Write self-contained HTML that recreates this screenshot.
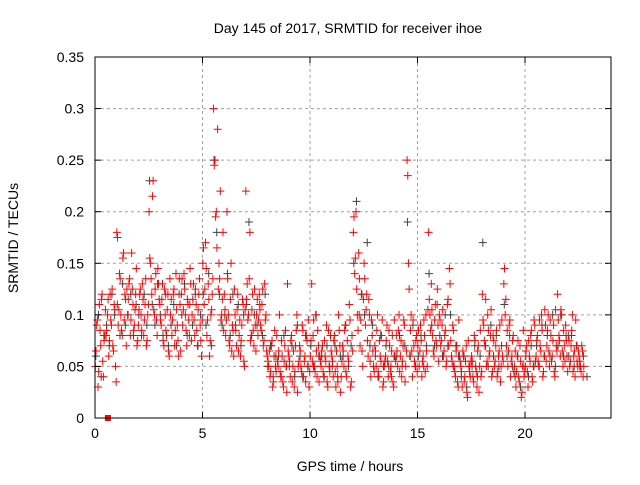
<!DOCTYPE html>
<html><head><meta charset="utf-8"><style>
body{margin:0;background:#fff}
svg text{font-family:"Liberation Sans",sans-serif;font-size:14px;fill:#000}
</style></head><body>
<svg id="c" width="640" height="480"></svg>
<script>
const xTicks=[0,5,10,15,20];
const yTicks=[0,0.05,0.1,0.15,0.2,0.25,0.3,0.35];
const yTickLabels=["0","0.05","0.1","0.15","0.2","0.25","0.3","0.35"];
const binStarts=[0,0.5,1,1.5,2,2.5,3,3.5,4,4.5,5,5.5,6,6.5,7,7.5,8,8.5,9,9.5,10,10.5,11,11.5,12,12.5,13,13.5,14,14.5,15,15.5,16,16.5,17,17.5,18,18.5,19,19.5,20,20.5,21,21.5,22,22.5];
const redBins=[
[0.05,0.09,0.03,0.11,0.07,0.12,0.04,0.08],[0.08,0.1,0.06,0.12,0.09,0.07,0.11,0.05],
[0.18,0.09,0.14,0.1,0.08,0.16,0.12,0.07],[0.1,0.13,0.08,0.16,0.11,0.09,0.12,0.07],
[0.09,0.12,0.1,0.13,0.08,0.11,0.07,0.1],[0.2,0.15,0.12,0.23,0.1,0.14,0.08,0.13],
[0.11,0.09,0.13,0.07,0.1,0.08,0.12,0.06],[0.1,0.08,0.12,0.07,0.14,0.09,0.06,0.11],
[0.12,0.09,0.14,0.1,0.07,0.11,0.08,0.13],[0.1,0.13,0.08,0.11,0.07,0.12,0.09,0.06],
[0.15,0.11,0.17,0.08,0.13,0.06,0.1,0.12],[0.3,0.25,0.2,0.28,0.15,0.22,0.1,0.18],
[0.12,0.08,0.2,0.1,0.07,0.15,0.09,0.06],[0.1,0.07,0.12,0.08,0.06,0.09,0.11,0.05],
[0.22,0.13,0.1,0.18,0.08,0.12,0.07,0.09],[0.1,0.08,0.12,0.09,0.11,0.07,0.13,0.1],
[0.06,0.05,0.04,0.07,0.03,0.06,0.05,0.08],[0.05,0.1,0.04,0.06,0.03,0.07,0.05,0.13],
[0.06,0.04,0.08,0.05,0.03,0.07,0.1,0.05],[0.07,0.05,0.09,0.04,0.06,0.08,0.05,0.03],
[0.06,0.13,0.08,0.05,0.1,0.04,0.07,0.06],[0.05,0.07,0.04,0.06,0.09,0.03,0.05,0.08],
[0.06,0.04,0.08,0.03,0.05,0.1,0.07,0.04],[0.07,0.05,0.09,0.04,0.06,0.11,0.03,0.08],
[0.18,0.14,0.2,0.1,0.16,0.07,0.12,0.05],[0.15,0.09,0.12,0.06,0.1,0.04,0.08,0.05],
[0.07,0.05,0.1,0.04,0.06,0.08,0.03,0.05],[0.06,0.09,0.04,0.07,0.05,0.08,0.03,0.06],
[0.08,0.05,0.1,0.06,0.04,0.07,0.09,0.05],[0.25,0.15,0.06,0.1,0.04,0.07,0.05,0.08],
[0.07,0.05,0.09,0.04,0.06,0.08,0.1,0.05],[0.18,0.1,0.13,0.08,0.06,0.11,0.07,0.09],
[0.1,0.07,0.09,0.06,0.08,0.05,0.11,0.07],[0.13,0.06,0.09,0.05,0.04,0.07,0.03,0.06],
[0.05,0.03,0.06,0.04,0.07,0.02,0.05,0.04],[0.06,0.04,0.08,0.05,0.03,0.07,0.05,0.04],
[0.12,0.09,0.07,0.05,0.1,0.06,0.08,0.04],[0.08,0.05,0.07,0.04,0.06,0.09,0.05,0.06],
[0.13,0.1,0.07,0.05,0.09,0.04,0.06,0.08],[0.05,0.03,0.06,0.04,0.07,0.02,0.05,0.04],
[0.05,0.07,0.03,0.06,0.08,0.04,0.05,0.09],[0.06,0.08,0.05,0.07,0.1,0.04,0.06,0.09],
[0.07,0.1,0.05,0.08,0.06,0.09,0.04,0.07],[0.12,0.08,0.06,0.1,0.05,0.07,0.09,0.06],
[0.08,0.05,0.07,0.1,0.06,0.04,0.07,0.05],[0.06,0.05,0.07,0.04]
];
const redBins2=[
[0.065,0.095,0.045,0.085,0.115,0.055,0.075,0.105],[0.085,0.115,0.075,0.095,0.125,0.065,0.105,0.035],
[0.175,0.105,0.135,0.085,0.155,0.095,0.115,0.125],[0.115,0.135,0.095,0.125,0.085,0.105,0.145,0.075],
[0.105,0.125,0.085,0.115,0.095,0.135,0.075,0.11],[0.155,0.135,0.215,0.105,0.125,0.095,0.145,0.115],
[0.095,0.115,0.075,0.125,0.085,0.105,0.065,0.135],[0.115,0.095,0.125,0.085,0.105,0.075,0.135,0.065],
[0.135,0.105,0.125,0.085,0.115,0.095,0.145,0.075],[0.115,0.095,0.125,0.085,0.105,0.135,0.075,0.095],
[0.165,0.125,0.145,0.095,0.115,0.075,0.105,0.135],[0.245,0.195,0.165,0.125,0.135,0.095,0.115,0.085],
[0.105,0.095,0.135,0.075,0.115,0.065,0.085,0.125],[0.085,0.105,0.065,0.095,0.075,0.115,0.055,0.105],
[0.115,0.095,0.135,0.075,0.105,0.085,0.125,0.065],[0.115,0.095,0.105,0.085,0.125,0.075,0.095,0.065],
[0.055,0.065,0.045,0.075,0.035,0.085,0.045,0.055],[0.065,0.045,0.075,0.035,0.055,0.085,0.025,0.065],
[0.055,0.075,0.035,0.065,0.045,0.085,0.025,0.055],[0.065,0.045,0.085,0.055,0.035,0.075,0.095,0.045],
[0.075,0.055,0.095,0.045,0.065,0.085,0.035,0.055],[0.065,0.045,0.075,0.055,0.035,0.085,0.045,0.065],
[0.055,0.075,0.045,0.065,0.035,0.085,0.025,0.055],[0.065,0.085,0.045,0.075,0.055,0.095,0.035,0.065],
[0.195,0.155,0.125,0.085,0.135,0.095,0.065,0.115],[0.135,0.105,0.075,0.115,0.055,0.095,0.065,0.045],
[0.065,0.085,0.045,0.075,0.055,0.095,0.035,0.055],[0.075,0.055,0.085,0.045,0.065,0.035,0.095,0.055],
[0.065,0.085,0.045,0.075,0.055,0.095,0.035,0.065],[0.235,0.125,0.085,0.065,0.095,0.055,0.075,0.045],
[0.085,0.065,0.075,0.055,0.095,0.045,0.065,0.105],[0.115,0.085,0.105,0.065,0.095,0.075,0.125,0.055],
[0.095,0.075,0.105,0.065,0.085,0.055,0.115,0.145],[0.075,0.055,0.085,0.045,0.065,0.035,0.095,0.055],
[0.045,0.065,0.035,0.055,0.025,0.075,0.045,0.055],[0.055,0.035,0.075,0.045,0.065,0.025,0.085,0.045],
[0.095,0.075,0.115,0.055,0.085,0.065,0.105,0.045],[0.075,0.055,0.085,0.045,0.065,0.035,0.095,0.055],
[0.145,0.115,0.085,0.065,0.095,0.055,0.075,0.045],[0.065,0.045,0.075,0.035,0.055,0.025,0.085,0.045],
[0.065,0.045,0.075,0.055,0.085,0.035,0.095,0.055],[0.075,0.055,0.095,0.065,0.085,0.045,0.105,0.055],
[0.085,0.065,0.095,0.055,0.075,0.045,0.105,0.065],[0.095,0.075,0.105,0.065,0.085,0.055,0.075,0.045],
[0.075,0.055,0.085,0.045,0.065,0.095,0.055,0.065],[0.055,0.045,0.065,0.05]
];
const greyBins=[
[0.06,0.1,0.04,0.08],[0.09,0.07,0.12,0.1],[0.11,0.08,0.13,0.09],[0.1,0.12,0.08,0.11],
[0.1,0.08,0.12,0.09],[0.23,0.11,0.09,0.13],[0.1,0.08,0.12,0.07],[0.09,0.11,0.07,0.12],
[0.1,0.13,0.08,0.11],[0.09,0.12,0.07,0.1],[0.12,0.09,0.14,0.07],[0.25,0.18,0.12,0.09],
[0.1,0.14,0.08,0.12],[0.09,0.11,0.07,0.1],[0.11,0.19,0.08,0.1],[0.09,0.11,0.08,0.12],
[0.05,0.07,0.04,0.06],[0.06,0.04,0.08,0.05],[0.05,0.07,0.04,0.09],[0.06,0.04,0.08,0.05],
[0.07,0.05,0.1,0.06],[0.06,0.04,0.07,0.05],[0.05,0.07,0.04,0.06],[0.06,0.09,0.05,0.07],
[0.15,0.21,0.1,0.12],[0.1,0.17,0.07,0.09],[0.06,0.04,0.08,0.05],[0.07,0.05,0.04,0.06],
[0.06,0.08,0.05,0.07],[0.19,0.06,0.09,0.05],[0.06,0.08,0.05,0.07],[0.14,0.09,0.07,0.11],
[0.08,0.06,0.1,0.07],[0.1,0.05,0.07,0.06],[0.04,0.06,0.03,0.05],[0.05,0.07,0.04,0.06],
[0.17,0.07,0.05,0.09],[0.06,0.08,0.05,0.07],[0.11,0.06,0.08,0.05],[0.04,0.06,0.03,0.05],
[0.06,0.04,0.07,0.05],[0.07,0.05,0.09,0.06],[0.08,0.06,0.1,0.05],[0.07,0.1,0.06,0.08],
[0.06,0.08,0.05,0.07],[0.05,0.06,0.04]
];
const binWidth=0.5;
const squareX=[0.6], squareY=[0];

const L=95,R=611,T=57,B=418,XMAX=24,YMAX=0.35;
const X=v=>L+v/XMAX*(R-L), Y=v=>B-v/YMAX*(B-T);
const svg=document.getElementById('c');const NS='http://www.w3.org/2000/svg';
function el(tag,attrs,parent){const e=document.createElementNS(NS,tag);for(const k in attrs)e.setAttribute(k,attrs[k]);(parent||svg).appendChild(e);return e;}

const grid=el('g',{});


xTicks.forEach(t=>{if(t>0)el('line',{x1:X(t),x2:X(t),y1:T,y2:B,stroke:'#a0a0a0','stroke-dasharray':'3,3'},grid);});
yTicks.forEach(t=>{if(t>0&&t<YMAX)el('line',{x1:L,x2:R,y1:Y(t),y2:Y(t),stroke:'#a0a0a0','stroke-dasharray':'3,3'},grid);});

function plus(g,x,y,c){el('path',{d:`M${x-4},${y}h8M${x},${y-4}v8`,stroke:c,'stroke-width':1,fill:'none'},g);}
const gg=el('g',{});


greyBins.forEach((vals,i)=>vals.forEach((v,k)=>plus(gg,X(binStarts[i]+(k+0.3)*binWidth/vals.length),Y(v),'#404040')));
const rg=el('g',{});


redBins.forEach((vals,i)=>vals.forEach((v,k)=>plus(rg,X(binStarts[i]+(k+0.25)*binWidth/8),Y(v),'#ff0000')));
redBins2.forEach((vals,i)=>vals.forEach((v,k)=>plus(rg,X(binStarts[i]+(k+0.75)*binWidth/8),Y(v),'#ff0000')));
squareX.forEach((s,i)=>{const r=el('rect',{x:X(s)-3,y:Y(squareY[i])-3,width:6,height:6,fill:'#ff0000'});

});

const frame=el('rect',{x:L,y:T,width:R-L,height:B-T,fill:'none',stroke:'#000'});


xTicks.forEach(t=>{el('line',{x1:X(t),x2:X(t),y1:B,y2:B-6,stroke:'#000'});el('line',{x1:X(t),x2:X(t),y1:T,y2:T+6,stroke:'#000'});
const tx=el('text',{x:X(t),y:B+20,'text-anchor':'middle'});tx.textContent=t;

});
yTicks.forEach((t,i)=>{el('line',{x1:L,x2:L+6,y1:Y(t),y2:Y(t),stroke:'#000'});el('line',{x1:R,x2:R-6,y1:Y(t),y2:Y(t),stroke:'#000'});
const tx=el('text',{x:L-11,y:Y(t)+5,'text-anchor':'end'});tx.textContent=yTickLabels[i];

});
const ti=el('text',{x:348,y:33,'text-anchor':'middle'});ti.textContent='Day 145 of 2017, SRMTID for receiver ihoe';


const xt=el('text',{x:350,y:471,'text-anchor':'middle'});xt.textContent='GPS time / hours';


const yt=el('text',{x:0,y:0,'text-anchor':'middle',transform:'translate(18,238) rotate(-90)'});yt.textContent='SRMTID / TECUs';


</script></body></html>
